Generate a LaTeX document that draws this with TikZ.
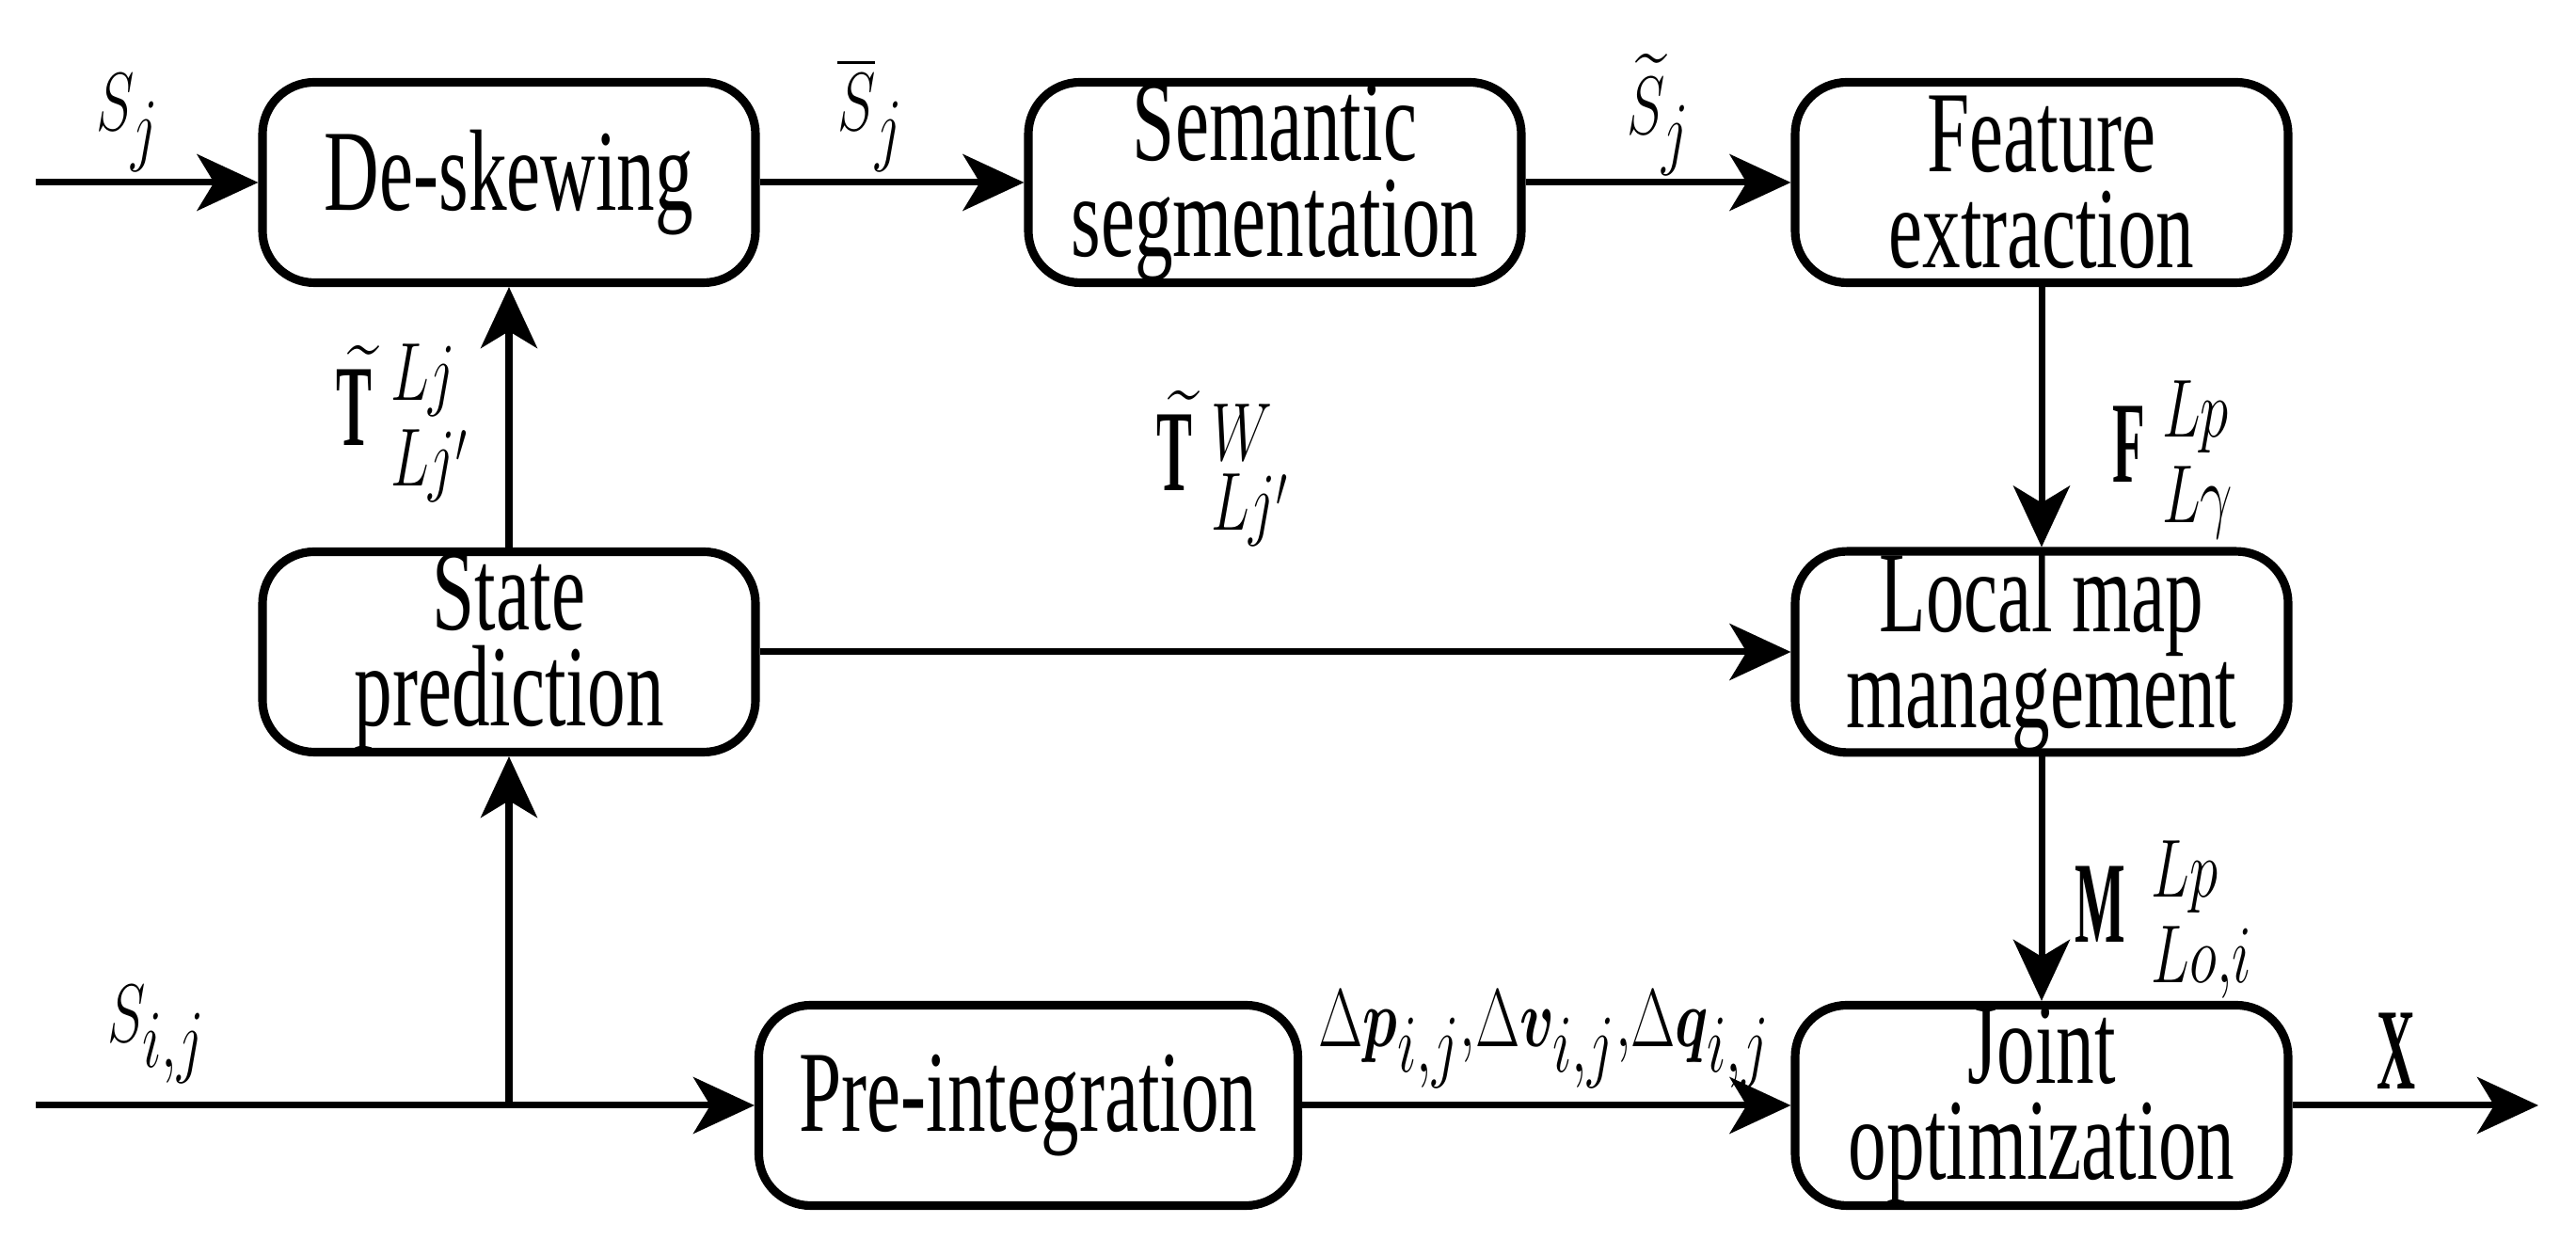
\documentclass[tikz,border=0pt]{standalone}
\usepackage{amsmath}
\usepackage{bm}
\usepackage{fontspec}
\setmainfont{Liberation Serif}[FakeStretch=0.66]
\usetikzlibrary{arrows.meta,positioning}
\newcommand{\sqz}[1]{\scalebox{0.7}[1]{#1}}

\begin{document}
\begin{tikzpicture}[
    block/.style={rectangle, draw=black, line width=2.6pt, rounded corners=0.55cm, inner sep=0pt, minimum width=5.24cm, minimum height=2.13cm, align=center, font=\fontsize{35}{29}\selectfont},
    lbl/.style={inner sep=0pt, font=\fontsize{35}{40}\selectfont},
    arrow/.style={-{Stealth[length=6.5mm,width=6mm,inset=1.8mm]}, line width=2pt}
]
\useasboundingbox (0,0) rectangle (27.38,13.17);

% ============ BLOCKS ============
\node[block] (deskew) at (5.41,11.23) {De-skewing};
\node[block] (semantic) at (13.55,11.23) {Semantic\\segmentation};
\node[block] (feature) at (21.70,11.23) {Feature\\extraction};
\node[block] (state) at (5.41,6.24) {State\\prediction};
\node[block] (localmap) at (21.70,6.24) {Local map\\management};
\node[block, minimum width=5.73cm] (preint) at (10.93,1.42) {Pre-integration};
\node[block] (joint) at (21.70,1.42) {Joint\\optimization};

% ============ ENDS ============
\coordinate (scan-in) at (0.38,11.23);
\coordinate (imu-in) at (0.38,1.42);
\coordinate (branch) at (state.south |- imu-in);
\coordinate (out) at (26.98,1.42);

% ============ LABELS ============
\node[lbl] (l-sj) at (1.36,11.86) {\sqz{$S_j$}};
\node[lbl] (l-sbar) at (9.25,11.95) {\sqz{$\overline{S}_j$}};
\node[lbl] (l-stil) at (17.63,11.95) {\sqz{$\widetilde{S}_j$}};
\node[lbl] (l-tlj) at (4.28,8.67) {\sqz{$\widetilde{\mathbf{T}}^{Lj}_{Lj'}$}};
\node[lbl] (l-tw) at (13.0,8.19) {\sqz{$\widetilde{\mathbf{T}}^{W}_{Lj'}$}};
\node[lbl] (l-f) at (23.1,8.28) {\sqz{$\mathbf{F}^{Lp}_{L\gamma}$}};
\node[lbl] (l-m) at (23.0,3.39) {\sqz{$\mathbf{M}^{Lp}_{Lo,i}$}};
\node[lbl] (l-d) at (16.41,2.12) {\sqz{$\Delta\bm{p}_{i,j},\!\Delta\bm{v}_{i,j},\!\Delta\bm{q}_{i,j}$}};
\node[lbl] (l-x) at (25.58,2.0) {\sqz{$\mathbf{X}$}};
\node[lbl] (l-sij) at (1.66,2.17) {\sqz{$S_{i,j}$}};

% ============ CONNEXIONS ============
\draw[arrow] (scan-in) -- (deskew);
\draw[arrow] (deskew) -- (semantic);
\draw[arrow] (semantic) -- (feature);
\draw[arrow] (feature) -- (localmap);
\draw[arrow] (state) -- (deskew);
\draw[arrow] (state) -- (localmap);
\draw[arrow] (localmap) -- (joint);
\draw[arrow] (imu-in) -- (preint);
\draw[arrow] (branch) -- (state);
\draw[arrow] (preint) -- (joint);
\draw[arrow] (joint) -- (out);

\end{tikzpicture}
\end{document}
